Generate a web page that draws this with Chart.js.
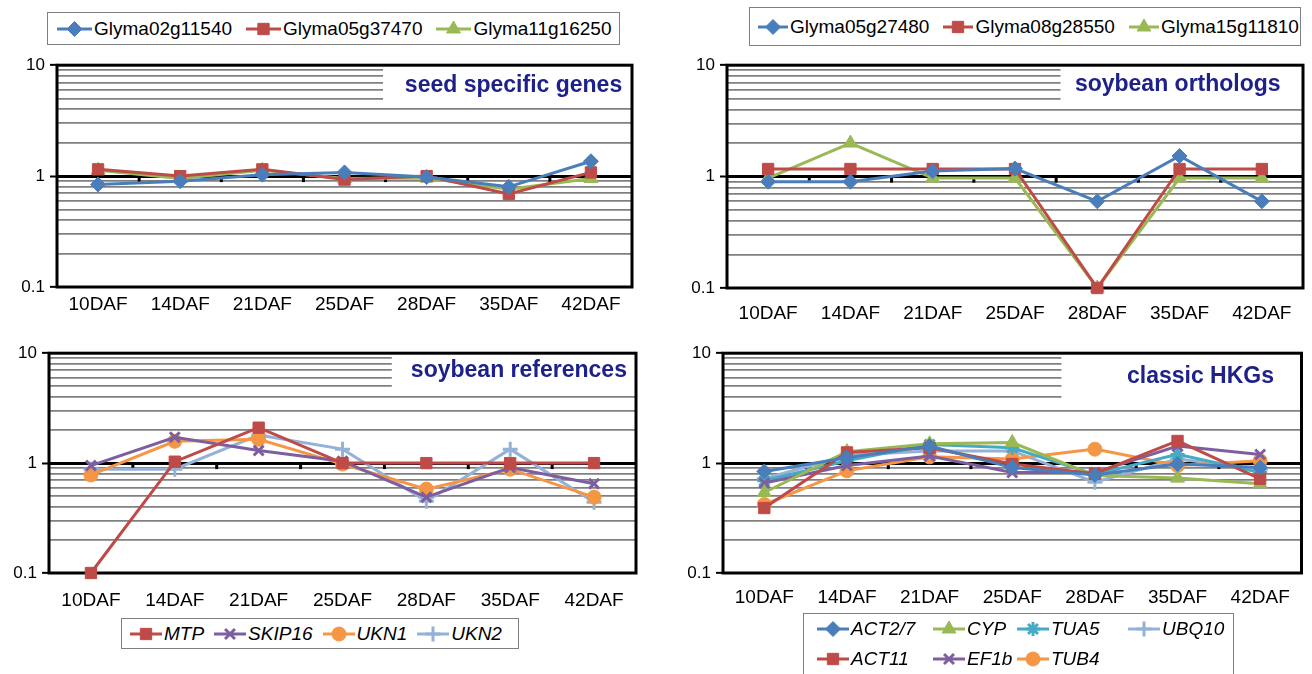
<!DOCTYPE html>
<html>
<head>
<meta charset="utf-8">
<script src="https://cdn.jsdelivr.net/npm/chart.js@4.4.1/dist/chart.umd.min.js"></script>
<style>
  html, body { margin: 0; padding: 0; background: #fff; }
  #stage { position: relative; width: 1312px; height: 674px; overflow: hidden; background: #fff;
           font-family: "Liberation Sans", Arial, sans-serif; }
  .plot { position: absolute; }
  .legend { position: absolute; box-sizing: border-box; border: 1.5px solid #7f7f7f; background: #fff;
            display: flex; align-items: center; font-size: 19px; color: #000; }
  .legend .item { display: flex; align-items: center; white-space: nowrap; }
  .legend canvas { display: block; margin-right: 2px; }
  .legend.italic { font-style: italic; }
  #leg4 { display: grid; grid-template-rows: 30px 30px; grid-auto-flow: column;
          grid-template-columns: 116px 84px 111px auto; align-content: start; align-items: center; }
</style>
</head>
<body>
<div id="stage">
  <canvas class="plot" id="c1" width="645" height="282" style="left:0;top:50px"></canvas>
  <canvas class="plot" id="c2" width="652" height="283" style="left:660px;top:50px"></canvas>
  <canvas class="plot" id="c3" width="648" height="280" style="left:0;top:338px"></canvas>
  <canvas class="plot" id="c4" width="652" height="275" style="left:660px;top:338px"></canvas>
  <div class="legend" id="leg1" style="left:47px;top:12px;width:573px;height:33px;padding-left:9px;column-gap:14px;"></div>
  <div class="legend" id="leg2" style="left:749px;top:7px;width:552px;height:39px;padding-left:8px;column-gap:14px;"></div>
  <div class="legend italic" id="leg3" style="left:121px;top:618px;width:398px;height:31px;padding-left:8px;column-gap:10px;"></div>
  <div class="legend italic" id="leg4" style="left:803px;top:613px;width:431px;height:70px;padding-left:13px;"></div>
</div>
<script>
  // categories and axis labels
  const days = ['10DAF', '14DAF', '21DAF', '25DAF', '28DAF', '35DAF', '42DAF'];
  const yTickLabels = [0.1, 1, 10];

  // seed specific genes
  const seedGenes = ['Glyma02g11540', 'Glyma05g37470', 'Glyma11g16250'];
  const seed02g11540 = [0.84, 0.90, 1.03, 1.08, 0.98, 0.80, 1.36];
  const seed05g37470 = [1.15, 1.00, 1.15, 0.93, 1.00, 0.69, 1.08];
  const seed11g16250 = [1.13, 0.95, 1.13, 0.95, 0.96, 0.76, 0.95];

  // soybean orthologs
  const orthoGenes = ['Glyma05g27480', 'Glyma08g28550', 'Glyma15g11810'];
  const ortho05g27480 = [0.90, 0.90, 1.12, 1.18, 0.60, 1.53, 0.60];
  const ortho08g28550 = [1.17, 1.17, 1.17, 1.17, 0.10, 1.17, 1.17];
  const ortho15g11810 = [0.97, 2.00, 0.97, 0.97, 0.10, 0.97, 0.97];

  // soybean references
  const refGenes = ['MTP', 'SKIP16', 'UKN1', 'UKN2'];
  const refMTP = [0.10, 1.03, 2.10, 1.00, 1.00, 1.00, 1.00];
  const refSKIP16 = [0.95, 1.72, 1.30, 1.04, 0.49, 0.91, 0.65];
  const refUKN1 = [0.78, 1.58, 1.65, 0.98, 0.58, 0.88, 0.49];
  const refUKN2 = [0.88, 0.88, 1.80, 1.34, 0.45, 1.34, 0.44];

  // classic HKGs
  const hkgGenes = ['ACT2/7', 'ACT11', 'CYP', 'EF1b', 'TUA5', 'TUB4', 'UBQ10'];
  const hkgACT27 = [0.84, 1.12, 1.43, 0.91, 0.78, 0.98, 0.91];
  const hkgACT11 = [0.39, 1.25, 1.38, 0.98, 0.80, 1.59, 0.72];
  const hkgCYP = [0.54, 1.27, 1.50, 1.54, 0.77, 0.73, 0.65];
  const hkgEF1b = [0.66, 0.95, 1.16, 0.82, 0.82, 1.43, 1.20];
  const hkgTUA5 = [0.69, 1.05, 1.48, 1.38, 0.79, 1.20, 0.82];
  const hkgTUB4 = [0.42, 0.85, 1.14, 1.09, 1.34, 0.95, 1.05];
  const hkgUBQ10 = [0.72, 1.18, 1.29, 1.29, 0.67, 1.09, 0.88];

  const BLUE = '#4a7ebb', RED = '#be4b48', GREEN = '#98b954', PURPLE = '#7d5fa0',
        TEAL = '#46aac5', ORANGE = '#f59644', LIGHT = '#94b2d8';

  Chart.defaults.font.family = '"Liberation Sans", Arial, sans-serif';
  Chart.defaults.color = '#000';

  // gridlines at 0.1..0.9, 1..9, 10
  const gridValues = [];
  for (let m = 1; m <= 9; m++) gridValues.push(m / 10);
  for (let m = 1; m <= 9; m++) gridValues.push(m);
  gridValues.push(10);

  const markerRadius = { rectRot: 7.5, rect: 8, triangle: 8, circle: 7, crossRot: 7, star: 7, cross: 7.5 };

  function series(label, data, color, style) {
    const crossy = ['crossRot', 'star', 'cross'].includes(style);
    return {
      label: label,
      data: data,
      borderColor: color,
      backgroundColor: color,
      pointBackgroundColor: color,
      pointBorderColor: color,
      pointStyle: style,
      pointRadius: markerRadius[style],
      pointBorderWidth: crossy ? 3 : 1,
      borderWidth: 3,
      tension: 0,
      clip: false
    };
  }

  // white label box, title, frame and the little axis ticks on the y=1 line
  const framePlugin = {
    id: 'frame',
    beforeDatasetsDraw(chart, args, opts) {
      const ctx = chart.ctx, a = chart.chartArea;
      const x = chart.scales.x, y = chart.scales.y;
      ctx.save();
      const bx = a.left + (a.right - a.left) * opts.boxFrom;
      const by = y.getPixelForValue(opts.boxDownTo);
      ctx.fillStyle = '#fff';
      ctx.fillRect(bx, a.top, a.right - bx, by - a.top);

      ctx.fillStyle = '#1d2189';
      ctx.font = 'bold 23px "Liberation Sans", Arial, sans-serif';
      ctx.textAlign = 'center';
      ctx.textBaseline = 'middle';
      ctx.fillText(opts.title, (bx + a.right) / 2 + opts.titleDx, a.top + opts.titleDy);

      const y1 = y.getPixelForValue(1);
      ctx.fillStyle = '#000';
      for (let i = 0; i < days.length - 1; i++) {
        const px = (x.getPixelForValue(i) + x.getPixelForValue(i + 1)) / 2;
        ctx.fillRect(px - 1.5, y1, 3, 6);
      }

      ctx.strokeStyle = '#000';
      ctx.lineWidth = 3;
      ctx.strokeRect(a.left, a.top, a.right - a.left, a.bottom - a.top);
      ctx.restore();
    }
  };

  function makeChart(id, datasets, lay, frame) {
    return new Chart(document.getElementById(id), {
      type: 'line',
      data: { labels: days, datasets: datasets },
      plugins: [framePlugin],
      options: {
        responsive: false,
        animation: false,
        events: [],
        layout: { padding: { top: lay.padTop, right: lay.padRight, left: 0, bottom: 0 } },
        plugins: { legend: { display: false }, tooltip: { enabled: false }, frame: frame },
        scales: {
          x: {
            offset: true,
            grid: { display: false, drawTicks: false },
            border: { display: false },
            ticks: { autoSkip: false, maxRotation: 0, padding: lay.xPad, font: { size: 19 }, color: '#000' },
            afterFit: s => { s.height = lay.xHeight; }
          },
          y: {
            type: 'logarithmic',
            min: 0.1,
            max: 10,
            afterBuildTicks: s => { s.ticks = gridValues.map(v => ({ value: v })); },
            afterFit: s => { s.width = lay.yWidth; },
            border: { display: false },
            grid: {
              color: c => (c.tick && c.tick.value === 1) ? '#000' : '#808080',
              lineWidth: c => (c.tick && c.tick.value === 1) ? 3 : 1.7,
              tickColor: c => (c.tick && yTickLabels.includes(c.tick.value)) ? '#000' : 'rgba(0,0,0,0)',
              tickLength: 7,
              tickWidth: 2
            },
            ticks: {
              autoSkip: false,
              padding: 5,
              font: { size: 17 },
              color: '#000',
              callback: v => yTickLabels.includes(v) ? String(v) : ''
            }
          }
        }
      }
    });
  }

  function swatch(ds, w) {
    const c = document.createElement('canvas');
    c.width = w; c.height = 20;
    const g = c.getContext('2d');
    g.strokeStyle = ds.borderColor;
    g.lineWidth = 3;
    g.beginPath(); g.moveTo(0, 10); g.lineTo(w, 10); g.stroke();
    g.fillStyle = ds.pointBackgroundColor;
    g.strokeStyle = ds.pointBorderColor;
    g.lineWidth = ds.pointBorderWidth;
    const opts = { pointStyle: ds.pointStyle, radius: ds.pointRadius, borderWidth: ds.pointBorderWidth, rotation: 0 };
    if (Chart.helpers && Chart.helpers.drawPoint) {
      Chart.helpers.drawPoint(g, opts, w / 2, 10);
    } else {
      g.beginPath(); g.arc(w / 2, 10, ds.pointRadius, 0, Math.PI * 2); g.fill();
    }
    return c;
  }

  function htmlLegend(id, chart, w) {
    const box = document.getElementById(id);
    chart.data.datasets.forEach(ds => {
      const item = document.createElement('div');
      item.className = 'item';
      item.appendChild(swatch(ds, w));
      const t = document.createElement('span');
      t.textContent = ds.label;
      item.appendChild(t);
      box.appendChild(item);
    });
  }

  const chart1 = makeChart('c1', [
    series(seedGenes[0], seed02g11540, BLUE, 'rectRot'),
    series(seedGenes[1], seed05g37470, RED, 'rect'),
    series(seedGenes[2], seed11g16250, GREEN, 'triangle')
  ], { padTop: 13, padRight: 13, yWidth: 57, xHeight: 45, xPad: 6 },
     { title: 'seed specific genes', boxFrom: 0.567, boxDownTo: 4.4, titleDx: 6, titleDy: 20 });

  const chart2 = makeChart('c2', [
    series(orthoGenes[0], ortho05g27480, BLUE, 'rectRot'),
    series(orthoGenes[1], ortho08g28550, RED, 'rect'),
    series(orthoGenes[2], ortho15g11810, GREEN, 'triangle')
  ], { padTop: 13, padRight: 5, yWidth: 67, xHeight: 45, xPad: 14 },
     { title: 'soybean orthologs', boxFrom: 0.579, boxDownTo: 4.4, titleDx: -4, titleDy: 19 });

  const chart3 = makeChart('c3', [
    series(refGenes[0], refMTP, RED, 'rect'),
    series(refGenes[1], refSKIP16, PURPLE, 'crossRot'),
    series(refGenes[2], refUKN1, ORANGE, 'circle'),
    series(refGenes[3], refUKN2, LIGHT, 'cross')
  ], { padTop: 13, padRight: 12, yWidth: 49, xHeight: 45, xPad: 16 },
     { title: 'soybean references', boxFrom: 0.584, boxDownTo: 4.4, titleDx: 5, titleDy: 17 });

  const chart4 = makeChart('c4', [
    series(hkgGenes[0], hkgACT27, BLUE, 'rectRot'),
    series(hkgGenes[1], hkgACT11, RED, 'rect'),
    series(hkgGenes[2], hkgCYP, GREEN, 'triangle'),
    series(hkgGenes[3], hkgEF1b, PURPLE, 'crossRot'),
    series(hkgGenes[4], hkgTUA5, TEAL, 'star'),
    series(hkgGenes[5], hkgTUB4, ORANGE, 'circle'),
    series(hkgGenes[6], hkgUBQ10, LIGHT, 'cross')
  ], { padTop: 14, padRight: 3, yWidth: 63, xHeight: 40, xPad: 13 },
     { title: 'classic HKGs', boxFrom: 0.585, boxDownTo: 3.6, titleDx: 19, titleDy: 23 });

  htmlLegend('leg1', chart1, 35);
  htmlLegend('leg2', chart2, 30);
  htmlLegend('leg3', chart3, 32);
  htmlLegend('leg4', chart4, 32);
</script>
</body>
</html>
